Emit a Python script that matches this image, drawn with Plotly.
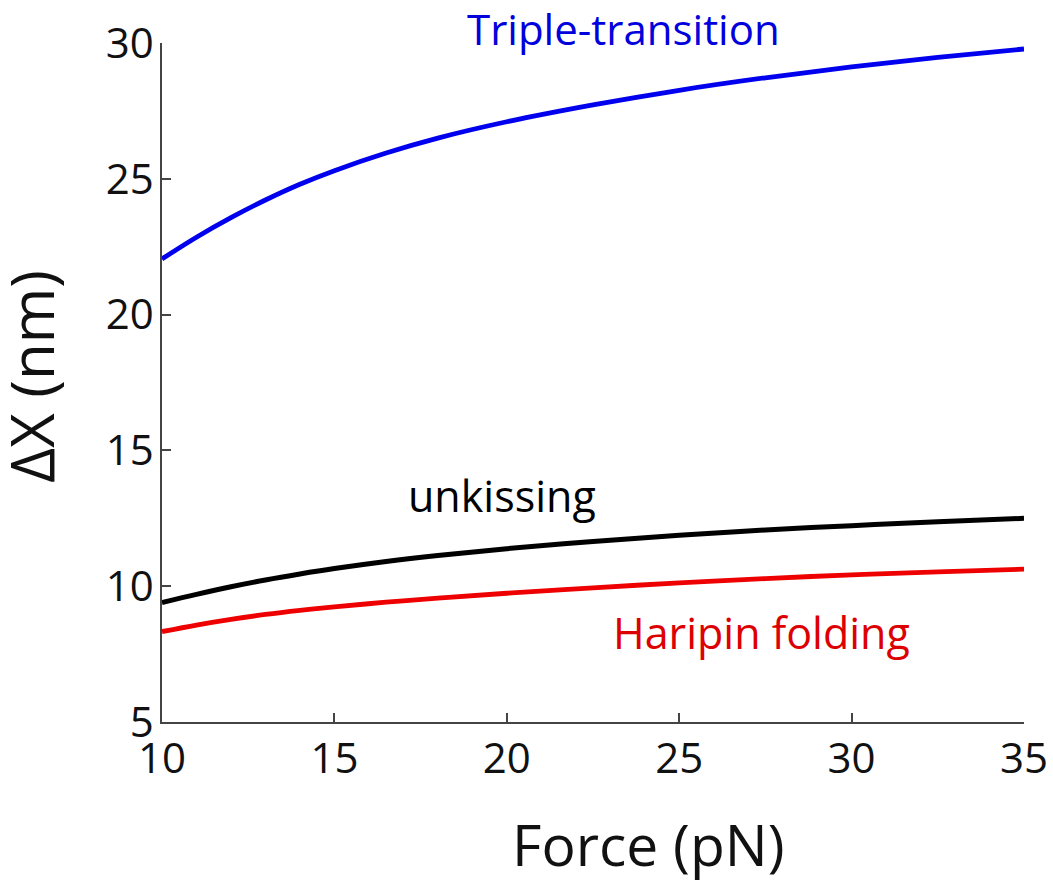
import plotly.graph_objects as go

force = [10, 11, 12, 13, 14, 15, 16.5, 18, 20, 22.5, 25, 27.5, 30, 32.5, 35]
triple = [22.05, 22.85, 23.57, 24.22, 24.8, 25.3, 25.95, 26.5, 27.1, 27.72, 28.26, 28.72, 29.12, 29.47, 29.78]
unkissing = [9.4, 9.7, 9.98, 10.23, 10.45, 10.65, 10.91, 11.13, 11.38, 11.65, 11.88, 12.07, 12.23, 12.37, 12.5]
hairpin = [8.33, 8.57, 8.78, 8.96, 9.11, 9.24, 9.41, 9.56, 9.74, 9.94, 10.12, 10.28, 10.42, 10.53, 10.63]

x_ticks = [10, 15, 20, 25, 30, 35]
y_ticks = [5, 10, 15, 20, 25, 30]

FONT = "Open Sans"

fig = go.Figure()
fig.add_trace(go.Scatter(x=force, y=triple, mode="lines", line=dict(color="#0000ee", width=4.8, shape="spline"), showlegend=False))
fig.add_trace(go.Scatter(x=force, y=unkissing, mode="lines", line=dict(color="#000000", width=5, shape="spline"), showlegend=False))
fig.add_trace(go.Scatter(x=force, y=hairpin, mode="lines", line=dict(color="#ee0000", width=4.8, shape="spline"), showlegend=False))

fig.add_annotation(x=0.535, y=1.021, xref="paper", yref="paper", xanchor="center", yanchor="middle",
                   text="Triple-transition", showarrow=False,
                   font=dict(family=FONT, size=42, color="#0000dd"))
fig.add_annotation(x=0.394, y=13.33, xref="paper", yref="y", xanchor="center", yanchor="middle",
                   text="unkissing", showarrow=False,
                   font=dict(family=FONT, size=43, color="#000000"))
fig.add_annotation(x=0.696, y=8.3, xref="paper", yref="y", xanchor="center", yanchor="middle",
                   text="Haripin folding", showarrow=False,
                   font=dict(family=FONT, size=43, color="#dd0000"))

# axis titles
fig.add_annotation(x=0.564, y=-0.18, xref="paper", yref="paper", xanchor="center", yanchor="middle",
                   text="Force (pN)", showarrow=False,
                   font=dict(family=FONT, size=57, color="#111111"))
fig.add_annotation(x=-0.152, y=0.51, xref="paper", yref="paper", xanchor="center", yanchor="middle",
                   text="ΔX (nm)", textangle=-90, showarrow=False,
                   font=dict(family=FONT, size=60, color="#111111"))

fig.update_layout(
    width=1053, height=882,
    margin=dict(l=162, r=29, t=43, b=160, autoexpand=False),
    paper_bgcolor="white", plot_bgcolor="white",
    font=dict(family=FONT, color="#111111"),
    xaxis=dict(range=[10, 35], tickvals=x_ticks, showgrid=False, zeroline=False, automargin=False,
               showline=True, linecolor="#444444", linewidth=1.5,
               ticks="inside", ticklen=9, tickcolor="#444444", tickwidth=1.5,
               ticklabelstandoff=-1,
               tickfont=dict(family=FONT, size=42, color="#111111")),
    yaxis=dict(range=[5, 30], tickvals=y_ticks, showgrid=False, zeroline=False, automargin=False,
               showline=True, linecolor="#444444", linewidth=1.5,
               ticks="inside", ticklen=9, tickcolor="#444444", tickwidth=1.5,
               ticklabelstandoff=-2,
               tickfont=dict(family=FONT, size=42, color="#111111")),
)

fig.write_html("out.html", config={"displayModeBar": False},
               post_script="document.body.style.margin='0';")
